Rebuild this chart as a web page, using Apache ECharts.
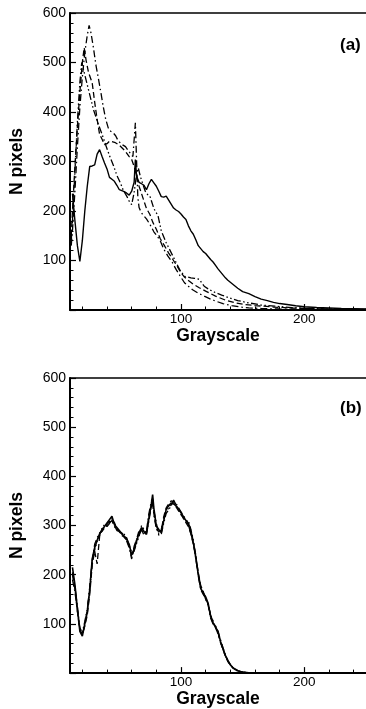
<!DOCTYPE html>
<html>
<head>
<meta charset="utf-8">
<script src="https://cdn.jsdelivr.net/npm/echarts@6/dist/echarts.min.js"></script>
<style>
  html, body { margin: 0; padding: 0; background: #fff; }
  #chart { width: 366px; height: 709px; }
</style>
</head>
<body>
<div id="chart"></div>
<script>
// Panel (a): four histograms of grayscale level
const gSolidA = [12,14,16,18,20,22,24,26,28,30,32,34,36,38,40,42,44,46,48,50,52,54,56,58,60,62,63,64,66,68,70,72,74,76,78,80,82,84,86,88,90,92,94,96,98,100,102,104,106,108,110,112,114,116,118,120,122,124,126,128,130,132,134,136,138,140,142,146,150,155,160,165,170,175,180,186,193,200,210,220,230,240,250];
const nSolidA = [235,180,130,98,140,200,250,290,291,293,315,324,310,297,285,268,264,260,252,243,241,239,236,232,240,258,304,270,258,255,252,243,255,264,257,250,240,229,228,230,222,214,206,202,199,194,188,183,170,160,153,142,130,124,118,114,108,102,97,90,83,77,71,65,60,56,52,44,37,33,27,22,19,15.5,13,11,8.5,6.5,5,4,3,2.5,2];

const gDashDotA = [11,12,14,16,18,20,22,24,25.5,27,29,31,33,35,37,39,41,43,45,47,49,51,53,55,57,59,61,63,64,65,66,68,70,72,74.8,78,82.8,86,89.4,93,96,99,102.8,106,109.4,114,118.8,124,128,134,141,148,155,165,180,200,220,250];
const nDashDotA = [130,160,240,330,410,470,520,555,575,560,530,495,468,440,410,385,368,361,358,352,342,337,333,330,323,316,310,378,300,228,207,196,190,184,173,158,142,123,109,96,82,70,55,48,41,34,28,22,18,13,9,6,4.4,3,2,1.2,0.8,0.5];

const gDashedA = [11,12,14,16,18,20,21.5,23,25,28,30,32,34,36,38,40,42,44,46.8,50,54.8,58,60,62,64,66,68,70,72,74.8,77,80,83,86.8,90,93.4,97,100,103,106.8,110,114.8,120,128,136,144,152,160,175,190,210,230,250];
const nDashedA = [150,200,290,370,440,500,530,505,480,459,420,385,355,345,334,336,341,340,338,333,321,310,304,290,270,250,235,220,205,193,178,163,145,129,115,102,88,75,66,58,52,45,38,28,20,14.5,11,9,6,4,2.5,1.5,1];

const gDashDotDotA = [11,12,14,16,18,19.5,21,23,25,27,29,31,33,36,39,42,45.5,48,50.8,53,56,58,60,62,64,65.4,67,69,71,73,74.8,78,81.4,84,88,93.4,98.8,102.8,108,111,114.8,118.8,123,128,133,138.8,146,154.8,165,176,190,200,220,250];
const nDashDotDotA = [140,180,280,380,460,500,485,465,445,425,405,390,375,355,333,312,290,272,257,243,230,220,213,237,275,287,270,255,240,233,230,205,190,160,136,109,82,68,65,64,62,48,41,35,30,25,19,14.5,10,7.7,5,3.5,2,1];

// Panel (b): four histograms sharing one grayscale grid
const gB = [12,14,16,18,20,22,24,26,28,30,32,34,36,38,40,42,44,46,48,50,52,54,56,58,60,62,64,66,68,70,72,74,76,77,78,80,82,84,86,88,90,92,94,96,98,100,102,104,106,108,110,112,114,116,118,120,122,124,126,128,130,132,134,136,138,140,142,144,146,148,150,155,160];
const nSolidB = [215,180,130,85,75,100,124,170,232,255,270,283,292,298,305,312,319,302,296,290,283,278,272,262,240,252,268,285,296,288,282,315,345,363,335,299,292,286,310,333,340,346,344,340,334,326,318,310,302,285,265,235,200,172,163,155,142,115,102,93,85,65,50,36,25,17,11,8,5,3,2,0.5,0];
const nDashedB = [200,170,125,88,80,95,118,160,220,248,222,278,290,300,302,308,312,306,294,287,280,276,270,258,236,250,272,290,292,280,286,320,338,350,325,292,288,290,318,336,344,350,348,338,330,322,316,306,298,283,262,238,205,178,166,152,140,118,104,95,82,62,48,34,24,16,11,7,5,3,2,0.5,0];
const nDashDotB = [190,165,128,90,78,98,128,175,228,262,275,285,288,295,300,306,310,298,292,288,285,280,268,255,232,258,272,282,290,284,290,325,350,355,330,305,280,292,315,328,336,342,350,345,336,328,320,312,305,290,268,240,198,170,160,152,138,112,100,96,84,68,52,38,26,18,12,8,5,3.5,2,0.5,0];
const nDashDotDotB = [205,175,135,92,82,105,130,168,226,250,268,280,295,302,298,304,314,300,290,286,284,282,275,260,245,248,264,278,300,292,284,310,340,348,322,296,284,282,305,325,332,340,352,342,332,324,314,308,310,292,270,232,202,175,165,150,140,118,106,92,80,64,49,35,24,17,11,7,4,3,2,0.5,0];

const xTicksMajor = [100, 200];
const xTicksMinor = [20, 40, 60, 80, 120, 140, 160, 180, 220, 240];

const FONT = "'Liberation Sans', Arial, Helvetica, sans-serif";
const DASH = [6, 3];
const DASH_DOT = [7, 3, 1.5, 3];
const DASH_DOT_DOT = [7, 2.5, 1.5, 2.5, 1.5, 2.5];

function pairs(xs, ys) { return xs.map((x, i) => [x, ys[i]]); }

const grids = [
  { left: 69, top: 13, width: 300, height: 297 },
  { left: 69, top: 378, width: 300, height: 296 }
];

const xAxes = [];
const yAxes = [];
grids.forEach((g, gi) => {
  // labelled axis with major ticks
  xAxes.push({
    type: 'value', gridIndex: gi, min: 10, max: 250, position: 'bottom',
    name: 'Grayscale', nameLocation: 'middle', nameGap: 15,
    nameTextStyle: { fontFamily: FONT, fontWeight: 'bold', fontSize: 17.5, color: '#000' },
    axisLine: { show: true, onZero: false, lineStyle: { color: '#000', width: 2 } },
    axisTick: { show: true, inside: true, length: 6, customValues: xTicksMajor, lineStyle: { color: '#000', width: 1.2 } },
    axisLabel: { show: true, customValues: xTicksMajor, margin: 2, fontFamily: FONT, fontSize: 13.5, color: '#000' },
    splitLine: { show: false }
  });
  // minor ticks
  xAxes.push({
    type: 'value', gridIndex: gi, min: 10, max: 250, position: 'bottom',
    axisLine: { show: false },
    axisTick: { show: true, inside: true, length: 3.5, customValues: xTicksMinor, lineStyle: { color: '#000', width: 1 } },
    axisLabel: { show: false },
    splitLine: { show: false }
  });
  // top frame line
  xAxes.push({
    type: 'value', gridIndex: gi, min: 10, max: 250, position: 'top',
    axisLine: { show: true, onZero: false, lineStyle: { color: '#000', width: 1.5 } },
    axisTick: { show: false }, axisLabel: { show: false }, splitLine: { show: false }
  });
  yAxes.push({
    type: 'value', gridIndex: gi, min: 0, max: 600, interval: 100, position: 'left',
    name: 'N pixels', nameLocation: 'middle', nameGap: 44,
    nameTextStyle: { fontFamily: FONT, fontWeight: 'bold', fontSize: 17.5, color: '#000' },
    axisLine: { show: true, onZero: false, lineStyle: { color: '#000', width: 2 } },
    axisTick: { show: true, inside: true, length: 6, lineStyle: { color: '#000', width: 1.2 } },
    minorTick: { show: true, splitNumber: 5, length: 3.5, lineStyle: { color: '#000', width: 1 } },
    axisLabel: { margin: 4, fontFamily: FONT, fontSize: 14, color: '#000',
      formatter: v => (v === 0 ? '' : String(v)) },
    splitLine: { show: false }, minorSplitLine: { show: false }
  });
});

function line(name, xi, yi, data, dash, width) {
  return {
    name, type: 'line', xAxisIndex: xi, yAxisIndex: yi, data,
    showSymbol: false, symbol: 'none', smooth: false,
    lineStyle: { color: '#000', width: width || 1.3, type: dash },
    emphasis: { disabled: true }
  };
}

const option = {
  animation: false,
  backgroundColor: '#fff',
  title: [
    { text: '(a)', left: 335, top: 32, textStyle: { fontFamily: FONT, fontWeight: 'bold', fontSize: 17, color: '#000' } },
    { text: '(b)', left: 335, top: 395, textStyle: { fontFamily: FONT, fontWeight: 'bold', fontSize: 17, color: '#000' } }
  ],
  grid: grids,
  xAxis: xAxes,
  yAxis: yAxes,
  series: [
    line('solid a', 0, 0, pairs(gSolidA, nSolidA), 'solid', 1.4),
    line('dash-dot a', 0, 0, pairs(gDashDotA, nDashDotA), DASH_DOT),
    line('dashed a', 0, 0, pairs(gDashedA, nDashedA), DASH),
    line('dash-dot-dot a', 0, 0, pairs(gDashDotDotA, nDashDotDotA), DASH_DOT_DOT),
    line('solid b', 3, 1, pairs(gB, nSolidB), 'solid', 1.6),
    line('dashed b', 3, 1, pairs(gB, nDashedB), DASH),
    line('dash-dot b', 3, 1, pairs(gB, nDashDotB), DASH_DOT),
    line('dash-dot-dot b', 3, 1, pairs(gB, nDashDotDotB), DASH_DOT_DOT)
  ]
};

const chart = echarts.init(document.getElementById('chart'), null, { renderer: 'canvas' });
chart.setOption(option);
</script>
</body>
</html>
